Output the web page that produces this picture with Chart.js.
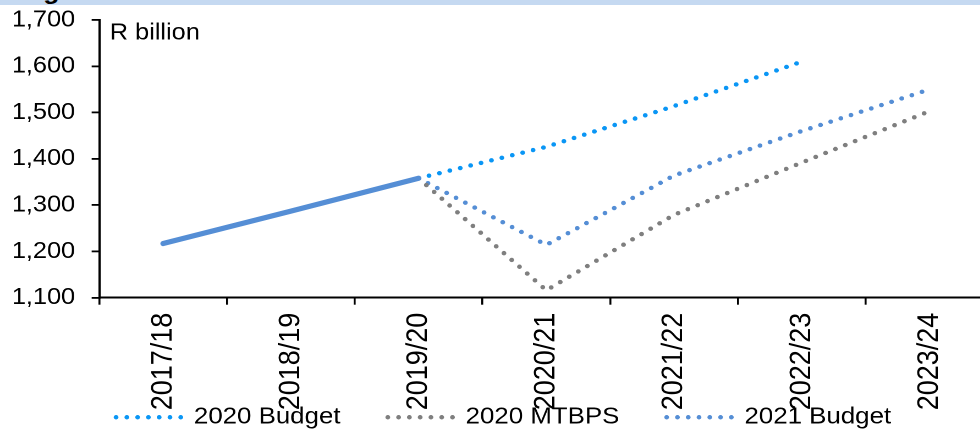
<!DOCTYPE html>
<html>
<head>
<meta charset="utf-8">
<script src="https://cdn.jsdelivr.net/npm/chart.js@4/dist/chart.umd.min.js"></script>
<style>
  html, body { margin: 0; padding: 0; background: #fff; overflow: hidden; width: 980px; height: 430px; }
  #wrap {
    position: absolute; left: 0; top: 0;
    width: 910px; height: 439px;
    transform: scaleX(1.1); transform-origin: 0 0;
  }
  #band {
    position: absolute; left: 0; top: 0; width: 100%; height: 5px;
    background: #c5d9f1; overflow: hidden; z-index: 2;
  }
  #band span {
    position: absolute; left: 18px; top: -21px;
    font: bold 24px/24px "Liberation Sans", Arial, sans-serif; color: #000; white-space: nowrap;
  }
  #c { position: absolute; left: 0; top: 0; }
</style>
</head>
<body>
<div id="wrap">
  <div id="band"><span>Figure</span></div>
  <canvas id="c"></canvas>
</div>
<script>
// Fiscal years on the category axis
const categories = ['2017/18', '2018/19', '2019/20', '2020/21', '2021/22', '2022/23', '2023/24'];

// Outcome up to 2019/20 (R billion)
const actual = [1217, 1287, 1358, null, null, null, null];

// Projections from each fiscal statement (R billion)
const budget2020 = [null, null, 1358, 1426, 1514, 1610, null];
const mtbps2020  = [null, null, 1358, 1116, 1279, 1392, 1503];
const budget2021 = [null, null, 1358, 1214, 1364, 1460, 1550];

// Value axis ticks
const yTicks = [1100, 1200, 1300, 1400, 1500, 1600, 1700];

const FONT = '"Liberation Sans", Arial, sans-serif';
Chart.defaults.font.family = FONT;
Chart.defaults.color = '#000';

const dotted = {
  borderWidth: 4.4,
  borderDash: [0, 9.8],
  borderCapStyle: 'round',
  pointRadius: 0,
  pointHoverRadius: 0,
  tension: 0,
  fill: false
};

// Unit caption inside the plot, plus room for the long rotated year labels
const unitLabel = {
  id: 'unitLabel',
  afterLayout(chart) {
    const x = chart.scales.x;
    x.bottom = chart.height;
  },
  afterDraw(chart) {
    const { ctx, chartArea } = chart;
    ctx.save();
    ctx.font = '23px ' + FONT;
    ctx.fillStyle = '#000';
    ctx.textAlign = 'left';
    ctx.textBaseline = 'middle';
    ctx.fillText('R billion', chartArea.left + 9.5, 33);
    ctx.restore();
  }
};

new Chart(document.getElementById('c'), {
  type: 'line',
  data: {
    labels: categories,
    datasets: [
      {
        label: '',
        data: actual,
        borderColor: '#558ed5',
        borderWidth: 5.2,
        borderCapStyle: 'round',
        pointRadius: 0,
        pointHoverRadius: 0,
        tension: 0,
        fill: false
      },
      Object.assign({ label: '2020 Budget', data: budget2020, borderColor: '#0a96f5' }, dotted),
      Object.assign({ label: '2020 MTBPS', data: mtbps2020, borderColor: '#7f7f7f' }, dotted),
      Object.assign({ label: '2021 Budget', data: budget2021, borderColor: '#558ed5' }, dotted)
    ]
  },
  options: {
    responsive: true,
    maintainAspectRatio: false,
    animation: false,
    devicePixelRatio: 2,
    layout: { padding: { top: 20, left: 12.6, right: 7, bottom: 0 } },
    plugins: {
      tooltip: { enabled: false },
      legend: {
        position: 'bottom',
        align: 'center',
        labels: {
          usePointStyle: true,
          pointStyleWidth: 59,
          padding: 43,
          color: '#000',
          font: { size: 23.5, family: FONT },
          generateLabels(chart) {
            return chart.data.datasets
              .map((ds, i) => ({
                text: ds.label,
                datasetIndex: i,
                strokeStyle: ds.borderColor,
                fillStyle: ds.borderColor,
                lineWidth: ds.borderWidth,
                lineDash: ds.borderDash,
                lineCap: 'round',
                pointStyle: 'line',
                hidden: false
              }))
              .filter(item => item.text);
          }
        }
      }
    },
    scales: {
      x: {
        offset: true,
        grid: {
          offset: true,
          drawOnChartArea: false,
          drawTicks: true,
          tickLength: 7,
          color: '#000',
          lineWidth: 1.8
        },
        border: { display: true, color: '#000', width: 2 },
        ticks: {
          minRotation: 90,
          maxRotation: 90,
          autoSkip: false,
          padding: 8,
          color: '#000',
          font: { size: 27, family: FONT }
        },
        afterFit(scale) { scale.height = 64.8; }
      },
      y: {
        min: 1100,
        max: 1700,
        grid: {
          drawOnChartArea: false,
          drawTicks: true,
          tickLength: 7,
          color: '#000',
          lineWidth: 1.8
        },
        border: { display: true, color: '#000', width: 2 },
        afterBuildTicks(scale) { scale.ticks = yTicks.map(v => ({ value: v })); },
        ticks: {
          padding: 15,
          color: '#000',
          font: { size: 23, family: FONT },
          callback: v => Number(v).toLocaleString('en-US')
        },
        afterFit(scale) {
          scale.width = 77.7;
          scale.paddingTop = 8;
          scale.paddingBottom = 8;
        }
      }
    }
  },
  plugins: [unitLabel]
});
</script>
</body>
</html>
